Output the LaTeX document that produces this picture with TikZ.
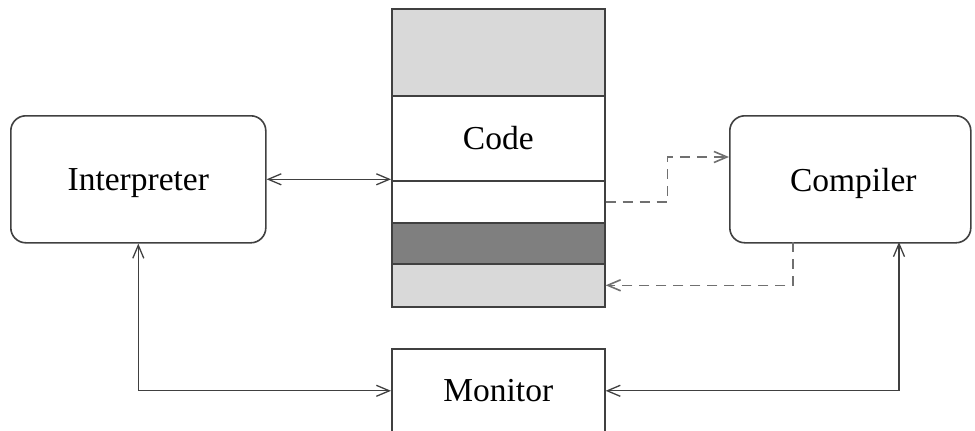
\documentclass[tikz,border=0pt]{standalone}
\usepackage{fontspec}
\setmainfont{Liberation Serif}
\usetikzlibrary{arrows.meta,calc}
\definecolor{lgray}{HTML}{D9D9D9}
\definecolor{dgray}{HTML}{7F7F7F}
\definecolor{edge}{HTML}{404040}
\definecolor{dedge}{HTML}{707070}
\begin{document}
\begin{tikzpicture}[x=1pt,y=-1pt,
  box/.style={draw=edge,line width=1.6pt,rounded corners=15pt,inner sep=0pt,anchor=north west},
  band/.style={draw=edge,line width=1.6pt,inner sep=0pt,anchor=north west,minimum width=213pt},
  lbl/.style={font=\fontsize{33.5}{40}\selectfont},
  conn/.style={draw=edge,line width=1.3pt,{Straight Barb[length=13pt,width=11pt]}-{Straight Barb[length=13pt,width=11pt]}},
  dconn/.style={draw=dedge,line width=1.6pt,dash pattern=on 10pt off 7pt,-{Straight Barb[length=13pt,width=11pt]}}]
\useasboundingbox (0,0) rectangle (975,431);
\clip (0,0) rectangle (975,431);
% code stack
\node[band,fill=lgray,minimum height=87pt] (codetop) at (391,8) {};
\node[band,fill=white,minimum height=85pt,lbl] (code) at (391,95) {Code};
\node[band,fill=white,minimum height=42pt] (codemid) at (391,180) {};
\node[band,fill=dgray,minimum height=41pt] (codedark) at (391,222) {};
\node[band,fill=lgray,minimum height=43pt] (codebot) at (391,263) {};
% boxes
\node[box,minimum width=255pt,minimum height=127pt] (interp) at (10,115) {};
\node[lbl] (interplbl) at ($(interp.center)+(0,4)$) {Interpreter};
\node[box,minimum width=241pt,minimum height=127pt] (comp) at (729,115) {};
\node[lbl] (complbl) at ($(comp.center)+(3,4)$) {Compiler};
\node[band,minimum height=84pt,lbl] (monitor) at (391,348) {Monitor};
% helper coordinates
\coordinate (cpin) at (899,242);
\coordinate (cdash) at (793,242);
\coordinate (cin) at (729,157);
% connectors
\draw[conn] (interp.east) -- (interp.east -| code.west);
\draw[conn] (interp.south) |- (monitor.west);
\draw[conn] (cpin) |- (monitor.east);
\draw[dconn] (codemid.east) -| ($(codemid.east)!0.5!(cin |- codemid.east)$) |- (cin);
\draw[dconn] (cdash) |- (codebot.east);
\end{tikzpicture}
\end{document}
